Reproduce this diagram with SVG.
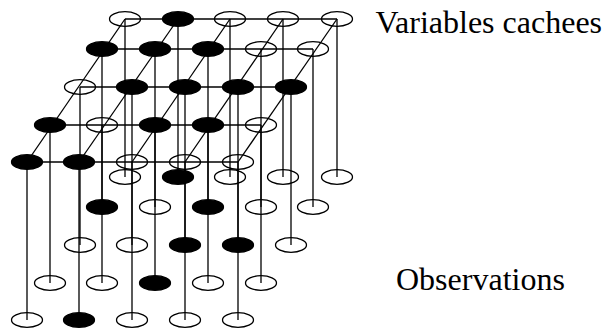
<svg xmlns="http://www.w3.org/2000/svg" width="607" height="329" viewBox="0 0 607 329">
<style>
.c line{stroke:#000;stroke-width:1.3;fill:none}
.n ellipse{stroke:#000;stroke-width:1.3}
.open ellipse{fill:none}
.fill ellipse{fill:#000}
.t{font-family:"Liberation Serif","Times New Roman",serif;font-size:32px;fill:#000}
</style>
<defs>
<ellipse id="e" cx="0" cy="0" rx="15.5" ry="7.3"/>
</defs>
<rect width="607" height="329" fill="#fff"/>
<g id="connectors" class="c">
<line x1="125" y1="19" x2="337" y2="19"/>
<line x1="102" y1="49" x2="313" y2="49"/>
<line x1="80" y1="87" x2="291" y2="87"/>
<line x1="50" y1="125" x2="261" y2="125"/>
<line x1="27" y1="162" x2="238" y2="162"/>
<line x1="125" y1="19" x2="27" y2="162"/>
<line x1="178" y1="19" x2="79" y2="162"/>
<line x1="230" y1="19" x2="132" y2="162"/>
<line x1="283" y1="19" x2="185" y2="162"/>
<line x1="337" y1="19" x2="238" y2="162"/>
<line x1="125" y1="19" x2="125" y2="177"/>
<line x1="178" y1="19" x2="178" y2="177"/>
<line x1="230" y1="19" x2="230" y2="177"/>
<line x1="283" y1="19" x2="283" y2="177"/>
<line x1="337" y1="19" x2="337" y2="177"/>
<line x1="102" y1="49" x2="102" y2="207"/>
<line x1="155" y1="49" x2="155" y2="207"/>
<line x1="208" y1="49" x2="208" y2="207"/>
<line x1="261" y1="49" x2="261" y2="207"/>
<line x1="313" y1="49" x2="313" y2="207"/>
<line x1="80" y1="87" x2="80" y2="245"/>
<line x1="132" y1="87" x2="132" y2="245"/>
<line x1="185" y1="87" x2="185" y2="245"/>
<line x1="238" y1="87" x2="238" y2="245"/>
<line x1="291" y1="87" x2="291" y2="245"/>
<line x1="50" y1="125" x2="50" y2="283"/>
<line x1="102" y1="125" x2="102" y2="283"/>
<line x1="155" y1="125" x2="155" y2="283"/>
<line x1="208" y1="125" x2="208" y2="283"/>
<line x1="261" y1="125" x2="261" y2="283"/>
<line x1="27" y1="162" x2="27" y2="320"/>
<line x1="79" y1="162" x2="79" y2="320"/>
<line x1="132" y1="162" x2="132" y2="320"/>
<line x1="185" y1="162" x2="185" y2="320"/>
<line x1="238" y1="162" x2="238" y2="320"/>
</g>
<g id="h00" class="n open"><ellipse cx="125" cy="19" rx="15.5" ry="7.3"/></g>
<g id="h01" class="n fill"><ellipse cx="178" cy="19" rx="15.5" ry="7.3"/></g>
<g id="h02" class="n open"><ellipse cx="230" cy="19" rx="15.5" ry="7.3"/></g>
<g id="h03" class="n open"><ellipse cx="283" cy="19" rx="15.5" ry="7.3"/></g>
<g id="h04" class="n open"><ellipse cx="337" cy="19" rx="15.5" ry="7.3"/></g>
<g id="h10" class="n fill"><ellipse cx="102" cy="49" rx="15.5" ry="7.3"/></g>
<g id="h11" class="n fill"><ellipse cx="155" cy="49" rx="15.5" ry="7.3"/></g>
<g id="h12" class="n fill"><ellipse cx="208" cy="49" rx="15.5" ry="7.3"/></g>
<g id="h13" class="n open"><ellipse cx="261" cy="49" rx="15.5" ry="7.3"/></g>
<g id="h14" class="n open"><ellipse cx="313" cy="49" rx="15.5" ry="7.3"/></g>
<g id="h20" class="n open"><ellipse cx="80" cy="87" rx="15.5" ry="7.3"/></g>
<g id="h21" class="n fill"><ellipse cx="132" cy="87" rx="15.5" ry="7.3"/></g>
<g id="h22" class="n fill"><ellipse cx="185" cy="87" rx="15.5" ry="7.3"/></g>
<g id="h23" class="n fill"><ellipse cx="238" cy="87" rx="15.5" ry="7.3"/></g>
<g id="h24" class="n fill"><ellipse cx="291" cy="87" rx="15.5" ry="7.3"/></g>
<g id="h30" class="n fill"><ellipse cx="50" cy="125" rx="15.5" ry="7.3"/></g>
<g id="h31" class="n open"><ellipse cx="102" cy="125" rx="15.5" ry="7.3"/></g>
<g id="h32" class="n fill"><ellipse cx="155" cy="125" rx="15.5" ry="7.3"/></g>
<g id="h33" class="n fill"><ellipse cx="208" cy="125" rx="15.5" ry="7.3"/></g>
<g id="h34" class="n open"><ellipse cx="261" cy="125" rx="15.5" ry="7.3"/></g>
<g id="h40" class="n fill"><ellipse cx="27" cy="162" rx="15.5" ry="7.3"/></g>
<g id="h41" class="n fill"><ellipse cx="79" cy="162" rx="15.5" ry="7.3"/></g>
<g id="h42" class="n open"><ellipse cx="132" cy="162" rx="15.5" ry="7.3"/></g>
<g id="h43" class="n open"><ellipse cx="185" cy="162" rx="15.5" ry="7.3"/></g>
<g id="h44" class="n open"><ellipse cx="238" cy="162" rx="15.5" ry="7.3"/></g>
<g id="o00" class="n open"><ellipse cx="125" cy="177" rx="15.5" ry="7.3"/></g>
<g id="o01" class="n fill"><ellipse cx="178" cy="177" rx="15.5" ry="7.3"/></g>
<g id="o02" class="n open"><ellipse cx="230" cy="177" rx="15.5" ry="7.3"/></g>
<g id="o03" class="n open"><ellipse cx="283" cy="177" rx="15.5" ry="7.3"/></g>
<g id="o04" class="n open"><ellipse cx="337" cy="177" rx="15.5" ry="7.3"/></g>
<g id="o10" class="n fill"><ellipse cx="102" cy="207" rx="15.5" ry="7.3"/></g>
<g id="o11" class="n open"><ellipse cx="155" cy="207" rx="15.5" ry="7.3"/></g>
<g id="o12" class="n fill"><ellipse cx="208" cy="207" rx="15.5" ry="7.3"/></g>
<g id="o13" class="n open"><ellipse cx="261" cy="207" rx="15.5" ry="7.3"/></g>
<g id="o14" class="n open"><ellipse cx="313" cy="207" rx="15.5" ry="7.3"/></g>
<g id="o20" class="n open"><ellipse cx="80" cy="245" rx="15.5" ry="7.3"/></g>
<g id="o21" class="n open"><ellipse cx="132" cy="245" rx="15.5" ry="7.3"/></g>
<g id="o22" class="n fill"><ellipse cx="185" cy="245" rx="15.5" ry="7.3"/></g>
<g id="o23" class="n fill"><ellipse cx="238" cy="245" rx="15.5" ry="7.3"/></g>
<g id="o24" class="n open"><ellipse cx="291" cy="245" rx="15.5" ry="7.3"/></g>
<g id="o30" class="n open"><ellipse cx="50" cy="283" rx="15.5" ry="7.3"/></g>
<g id="o31" class="n open"><ellipse cx="102" cy="283" rx="15.5" ry="7.3"/></g>
<g id="o32" class="n fill"><ellipse cx="155" cy="283" rx="15.5" ry="7.3"/></g>
<g id="o33" class="n open"><ellipse cx="208" cy="283" rx="15.5" ry="7.3"/></g>
<g id="o34" class="n open"><ellipse cx="261" cy="283" rx="15.5" ry="7.3"/></g>
<g id="o40" class="n open"><ellipse cx="27" cy="320" rx="15.5" ry="7.3"/></g>
<g id="o41" class="n fill"><ellipse cx="79" cy="320" rx="15.5" ry="7.3"/></g>
<g id="o42" class="n open"><ellipse cx="132" cy="320" rx="15.5" ry="7.3"/></g>
<g id="o43" class="n open"><ellipse cx="185" cy="320" rx="15.5" ry="7.3"/></g>
<g id="o44" class="n open"><ellipse cx="238" cy="320" rx="15.5" ry="7.3"/></g>
<g id="labels">
<text class="t" x="375.5" y="33">Variables cachees</text>
<text class="t" x="396" y="290">Observations</text>
</g>
</svg>
